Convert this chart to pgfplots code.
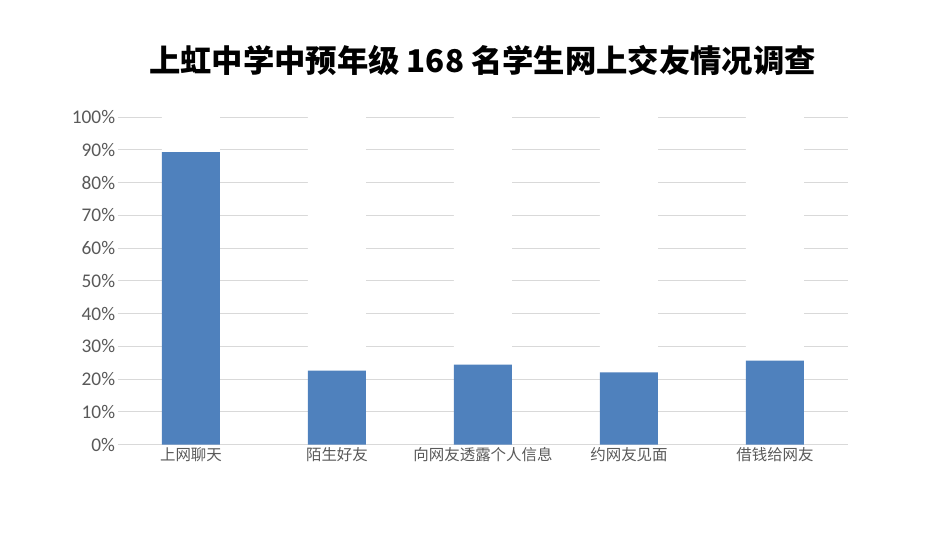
\documentclass[border=0pt]{standalone}
\usepackage{pgfplots}
\pgfplotsset{compat=1.18}
\usepackage{fontspec}
\setmainfont{Carlito}
\newfontfamily\cjk{Noto Sans CJK SC}
\definecolor{barblue}{HTML}{4F81BD}
\definecolor{gridgray}{HTML}{D9D9D9}
\definecolor{labelgray}{HTML}{595959}
\begin{document}
\begin{tikzpicture}
\begin{axis}[
    scale only axis,
    width=547.5pt, height=245.6pt,
    ybar stacked,
    bar width=43.5pt,
    xmin=-0.5, xmax=4.5,
    ymin=0, ymax=100,
    xtick=data,
    xticklabels={上网聊天,陌生好友,向网友透露个人信息,约网友见面,借钱给网友},
    x tick label style={font=\cjk\fontsize{11.6pt}{14pt}\selectfont, text=labelgray, inner ysep=2pt},
    ytick={0,10,...,100},
    yticklabel={\pgfmathprintnumber{\tick}\%},
    y tick label style={font=\fontsize{14.5pt}{17pt}\selectfont, text=labelgray, inner xsep=2pt},
    /pgf/number format/assume math mode=true,
    major tick length=0pt,
    ymajorgrids,
    grid style={gridgray, line width=0.75pt},
    axis x line*=bottom,
    axis y line*=left,
    x axis line style={gridgray, line width=0.75pt, -},
    y axis line style={draw=none},
]
\addplot[fill=barblue, draw=none] coordinates {(0,89.3) (1,22.6) (2,24.4) (3,22.0) (4,25.6)};
\addplot[fill=white, draw=none] coordinates {(0,10.7) (1,77.4) (2,75.6) (3,78.0) (4,74.4)};
\end{axis}
\node[font=\cjk\bfseries\fontsize{23.5pt}{28pt}\selectfont, anchor=center] at (273.4pt,288pt) {上虹中学中预年级 168 名学生网上交友情况调查};
\pgfresetboundingbox
\path[use as bounding box] (-88.5pt,-67.9pt) rectangle (624pt,333.4pt);
\end{tikzpicture}
\end{document}
